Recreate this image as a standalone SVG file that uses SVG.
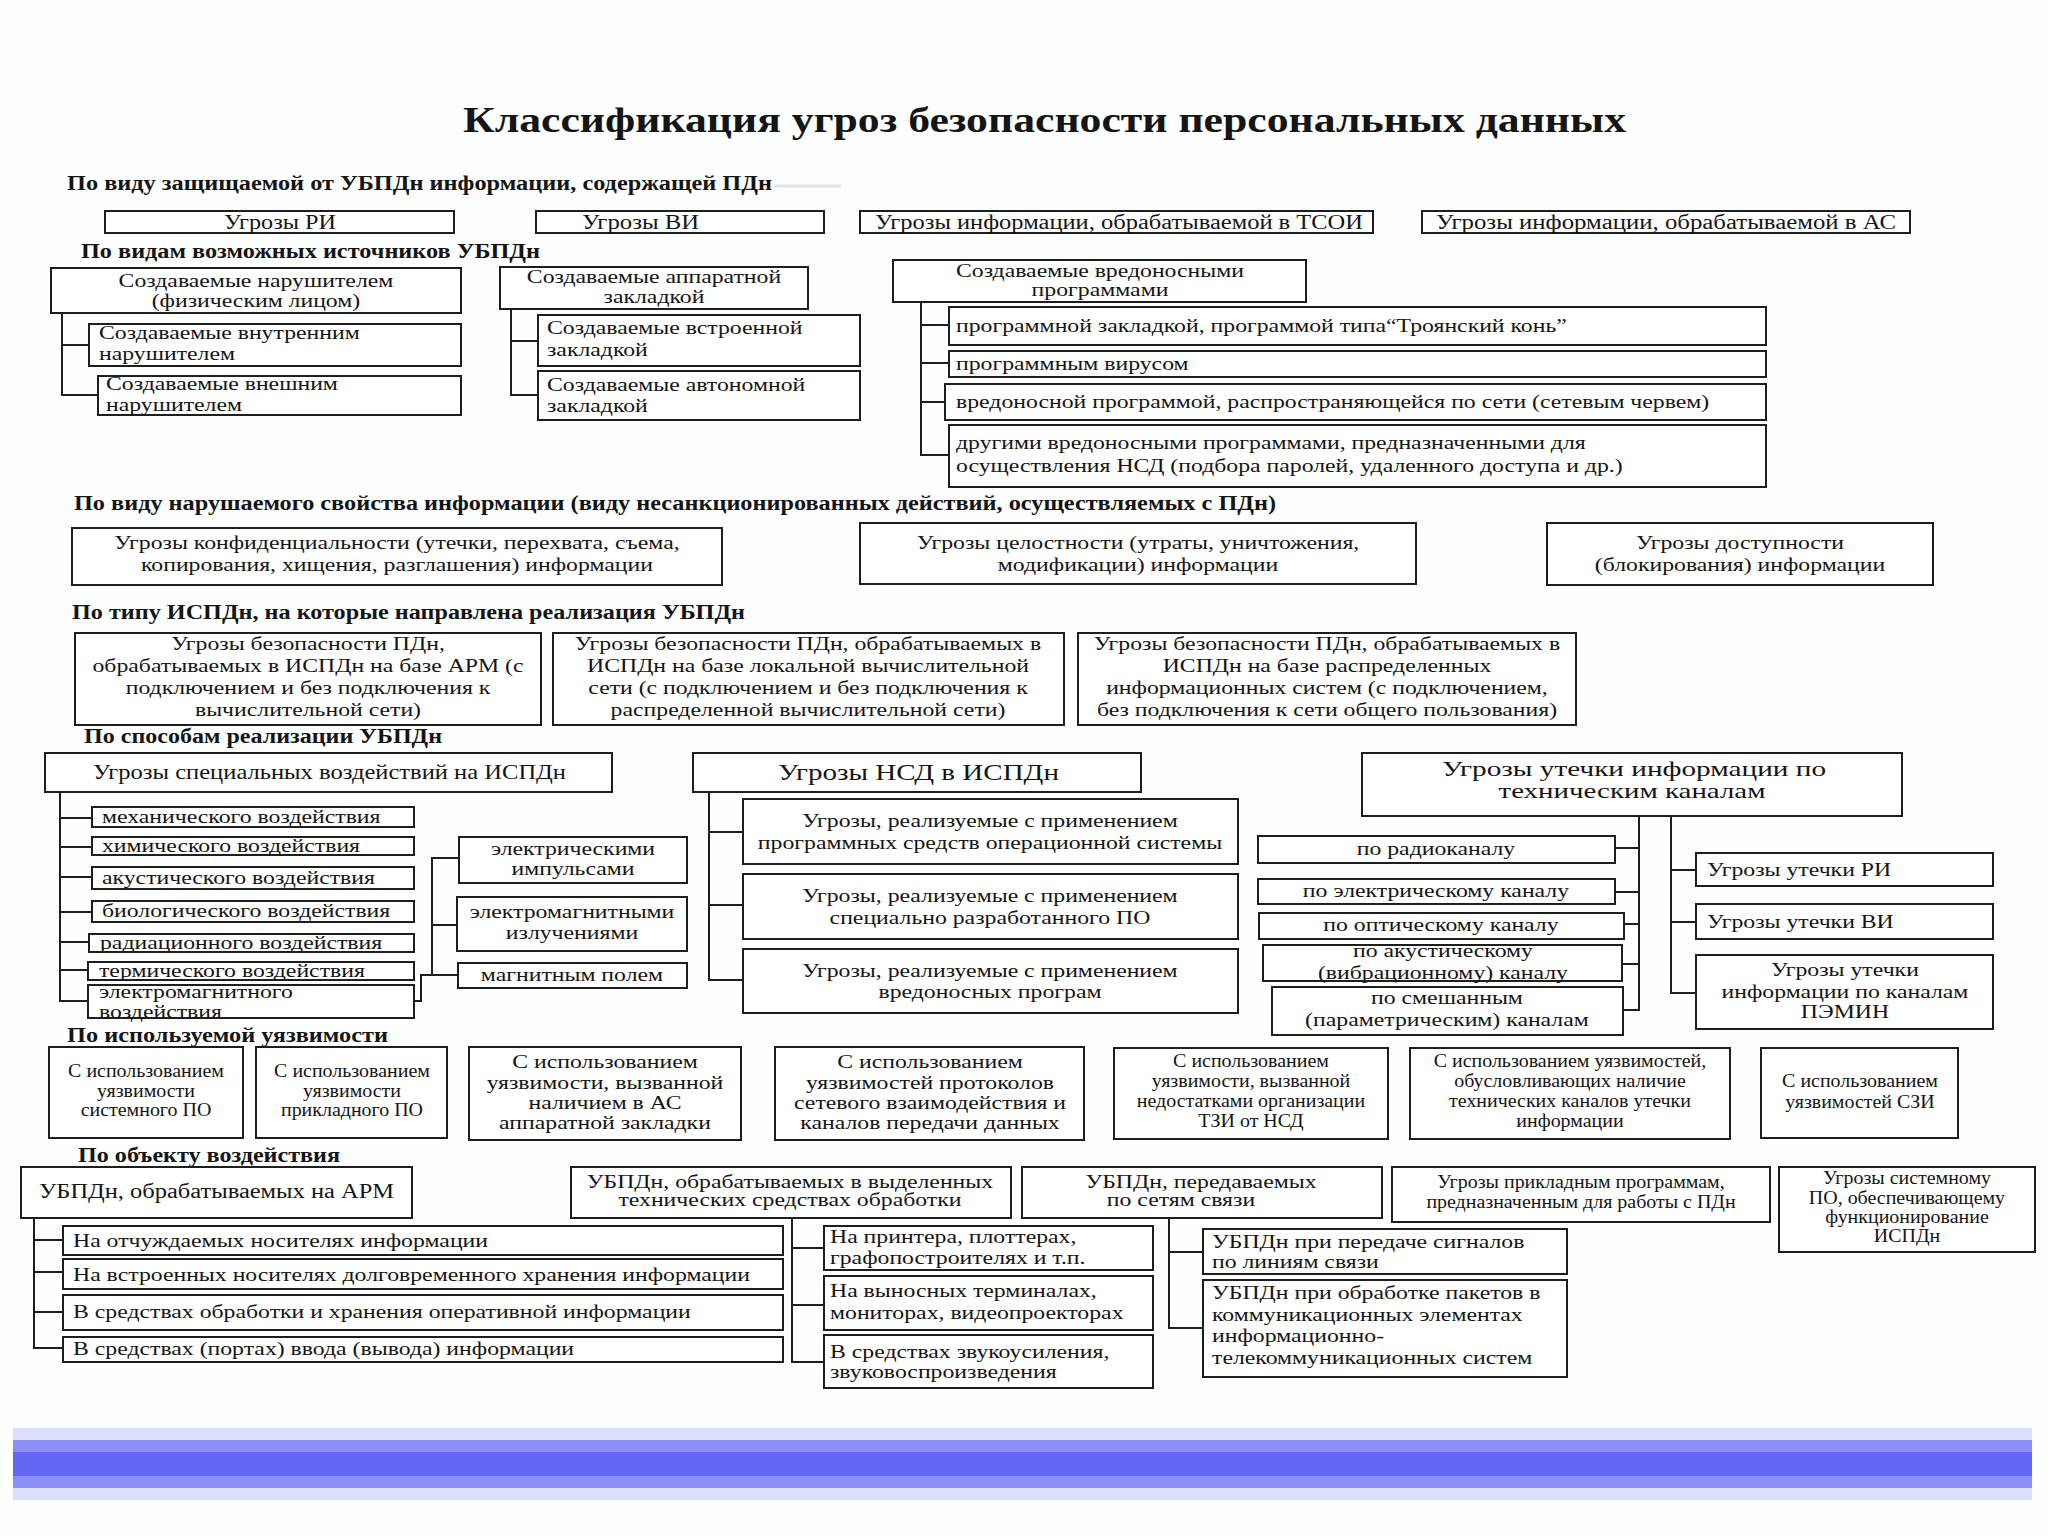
<svg xmlns="http://www.w3.org/2000/svg" width="2048" height="1536" viewBox="0 0 2048 1536">
<style>
.b{fill:#fff;stroke:#1e1e1e;stroke-width:2}
.k{fill:none;stroke:#1e1e1e;stroke-width:2}
text{font-family:"Liberation Serif","Times New Roman",serif;fill:#151515}
.t{font-size:19px;transform-box:fill-box;transform:scaleX(1.25)}
.v{font-size:19px;transform-box:fill-box;transform:scaleX(1.05)}
.c{text-anchor:middle;transform-origin:50% 50%}
.l{text-anchor:start;transform-origin:0% 50%}
.h{font-size:20px;font-weight:bold}
.n{font-size:20px}
.big{font-size:24px}
.ttl{font-size:36px;font-weight:bold}
</style>
<rect width="2048" height="1536" fill="#fdfefe"/>
<text class="ttl" x="463" y="132" textLength="1163" lengthAdjust="spacingAndGlyphs">Классификация угроз безопасности персональных данных</text>

<g id="headers">
<text class="h" x="67" y="190" textLength="705" lengthAdjust="spacingAndGlyphs">По виду защищаемой от УБПДн информации, содержащей ПДн</text>
<line x1="774" y1="186" x2="841" y2="186" stroke="#e2e4e6" stroke-width="3"/>
<text class="h" x="81" y="258" textLength="459" lengthAdjust="spacingAndGlyphs">По видам возможных источников УБПДн</text>
<text class="h" x="74" y="510" textLength="1202" lengthAdjust="spacingAndGlyphs">По виду нарушаемого свойства информации (виду несанкционированных действий, осуществляемых с ПДн)</text>
<text class="h" x="72" y="619" textLength="673" lengthAdjust="spacingAndGlyphs">По типу ИСПДн, на которые направлена реализация УБПДн</text>
<text class="h" x="84" y="743" textLength="358" lengthAdjust="spacingAndGlyphs">По способам реализации УБПДн</text>
<text class="h" x="67" y="1042" textLength="321" lengthAdjust="spacingAndGlyphs">По используемой уязвимости</text>
<text class="h" x="78" y="1162" textLength="262" lengthAdjust="spacingAndGlyphs">По объекту воздействия</text>
</g>

<g id="connectors">
<path class="k" d="M62,313 V395 H98 M62,345 H89"/>
<path class="k" d="M511,309 V395 H538 M511,341 H538"/>
<path class="k" d="M921,302 V455 H949 M921,325 H949 M921,363 H949 M921,402 H945"/>
<path class="k" d="M60,792 V1001 H88 M60,818 H92 M60,847 H92 M60,877 H92 M60,912 H92 M60,942 H89 M60,970 H88"/>
<path class="k" d="M414,1001 H421 V975 H458 M432,975 V858 H459 M432,925 H457"/>
<path class="k" d="M709,792 V980 H743 M709,832 H743 M709,905 H743"/>
<path class="k" d="M1639,816 V1010 H1623 M1639,848 H1615 M1639,892 H1615 M1639,924 H1624 M1639,964 H1622"/>
<path class="k" d="M1671,816 V993 H1696 M1671,870 H1696 M1671,922 H1696"/>
<path class="k" d="M34,1218 V1348 H63 M34,1240 H63 M34,1272 H63 M34,1312 H63"/>
<path class="k" d="M792,1218 V1362 H824 M792,1248 H824 M792,1305 H824"/>
<path class="k" d="M1169,1218 V1328 H1203 M1169,1252 H1203"/>
</g>

<g id="n-ri"><rect class="b" x="105" y="211" width="349" height="22"/><text class="n" x="224" y="229" textLength="112" lengthAdjust="spacingAndGlyphs">Угрозы РИ</text></g>
<g id="n-vi"><rect class="b" x="536" y="211" width="288" height="22"/><text class="n" x="582" y="229" textLength="117" lengthAdjust="spacingAndGlyphs">Угрозы ВИ</text></g>
<g id="n-tsoi"><rect class="b" x="860" y="211" width="513" height="22"/><text class="n" x="875" y="229" textLength="488" lengthAdjust="spacingAndGlyphs">Угрозы информации, обрабатываемой в ТСОИ</text></g>
<g id="n-as"><rect class="b" x="1422" y="211" width="488" height="22"/><text class="n" x="1436" y="229" textLength="460" lengthAdjust="spacingAndGlyphs">Угрозы информации, обрабатываемой в  АС</text></g>

<g id="n-phys"><rect class="b" x="51" y="268" width="410" height="45"/><text class="t c"><tspan x="256" y="287">Создаваемые нарушителем</tspan><tspan x="256" y="307">(физическим лицом)</tspan></text></g>
<g id="n-inner"><rect class="b" x="89" y="324" width="372" height="42"/><text class="t l"><tspan x="99" y="339">Создаваемые внутренним</tspan><tspan x="99" y="360">нарушителем</tspan></text></g>
<g id="n-outer"><rect class="b" x="98" y="376" width="363" height="39"/><text class="t l"><tspan x="106" y="390">Создаваемые внешним</tspan><tspan x="106" y="411">нарушителем</tspan></text></g>

<g id="n-hw"><rect class="b" x="500" y="267" width="308" height="42"/><text class="t c"><tspan x="654" y="283">Создаваемые аппаратной</tspan><tspan x="654" y="303">закладкой</tspan></text></g>
<g id="n-emb"><rect class="b" x="538" y="315" width="322" height="51"/><text class="t l"><tspan x="547" y="334">Создаваемые встроенной</tspan><tspan x="547" y="356">закладкой</tspan></text></g>
<g id="n-auto"><rect class="b" x="538" y="371" width="322" height="49"/><text class="t l"><tspan x="547" y="391">Создаваемые автономной</tspan><tspan x="547" y="412">закладкой</tspan></text></g>

<g id="n-mal"><rect class="b" x="893" y="260" width="413" height="42"/><text class="t c"><tspan x="1100" y="277">Создаваемые вредоносными</tspan><tspan x="1100" y="296">программами</tspan></text></g>
<g id="n-troj"><rect class="b" x="949" y="307" width="817" height="38"/><text class="t l" x="956" y="332">программной  закладкой, программой типа“Троянский конь”</text></g>
<g id="n-virus"><rect class="b" x="949" y="351" width="817" height="26"/><text class="t l" x="956" y="370">программным вирусом</text></g>
<g id="n-worm"><rect class="b" x="945" y="384" width="821" height="36"/><text class="t l" x="956" y="408">вредоносной программой, распространяющейся по сети (сетевым червем)</text></g>
<g id="n-other"><rect class="b" x="949" y="425" width="817" height="62"/><text class="t l"><tspan x="956" y="449">другими вредоносными программами, предназначенными для</tspan><tspan x="956" y="472">осуществления  НСД (подбора паролей, удаленного доступа и др.)</tspan></text></g>

<g id="n-conf"><rect class="b" x="72" y="528" width="650" height="57"/><text class="t c"><tspan x="397" y="549">Угрозы конфиденциальности (утечки, перехвата, съема,</tspan><tspan x="397" y="571">копирования, хищения, разглашения) информации</tspan></text></g>
<g id="n-integ"><rect class="b" x="860" y="523" width="556" height="61"/><text class="t c"><tspan x="1138" y="549">Угрозы целостности (утраты, уничтожения,</tspan><tspan x="1138" y="571">модификации) информации</tspan></text></g>
<g id="n-avail"><rect class="b" x="1547" y="523" width="386" height="62"/><text class="t c"><tspan x="1740" y="549">Угрозы доступности</tspan><tspan x="1740" y="571">(блокирования) информации</tspan></text></g>

<g id="n-arm"><rect class="b" x="75" y="633" width="466" height="92"/><text class="t c"><tspan x="308" y="650">Угрозы безопасности ПДн,</tspan><tspan x="308" y="672">обрабатываемых в ИСПДн на базе АРМ (с</tspan><tspan x="308" y="694">подключением и без подключения к</tspan><tspan x="308" y="716">вычислительной сети)</tspan></text></g>
<g id="n-lan"><rect class="b" x="553" y="633" width="511" height="92"/><text class="t c"><tspan x="808" y="650">Угрозы безопасности ПДн, обрабатываемых в</tspan><tspan x="808" y="672">ИСПДн на базе локальной вычислительной</tspan><tspan x="808" y="694">сети (с подключением и без подключения к</tspan><tspan x="808" y="716">распределенной вычислительной сети)</tspan></text></g>
<g id="n-dist"><rect class="b" x="1078" y="633" width="498" height="92"/><text class="t c"><tspan x="1327" y="650">Угрозы безопасности ПДн, обрабатываемых в</tspan><tspan x="1327" y="672">ИСПДн на базе распределенных</tspan><tspan x="1327" y="694">информационных систем (с подключением,</tspan><tspan x="1327" y="716">без подключения к сети  общего пользования)</tspan></text></g>

<g id="n-spec"><rect class="b" x="45" y="753" width="567" height="39"/><text class="n" x="93" y="779" style="font-size:21px" textLength="473" lengthAdjust="spacingAndGlyphs">Угрозы  специальных воздействий на ИСПДн</text></g>
<g id="n-mech"><rect class="b" x="92" y="807" width="322" height="20"/><text class="t l" x="102" y="823">механического воздействия</text></g>
<g id="n-chem"><rect class="b" x="92" y="837" width="322" height="18"/><text class="t l" x="102" y="852">химического воздействия</text></g>
<g id="n-acou"><rect class="b" x="92" y="867" width="322" height="22"/><text class="t l" x="102" y="884">акустического воздействия</text></g>
<g id="n-bio"><rect class="b" x="92" y="901" width="322" height="21"/><text class="t l" x="102" y="917">биологического воздействия</text></g>
<g id="n-rad"><rect class="b" x="89" y="934" width="325" height="18"/><text class="t l" x="100" y="949">радиационного воздействия</text></g>
<g id="n-therm"><rect class="b" x="88" y="962" width="326" height="18"/><text class="t l" x="99" y="977">термического воздействия</text></g>
<g id="n-em"><rect class="b" x="88" y="985" width="326" height="33"/><text class="t l"><tspan x="99" y="998">электромагнитного</tspan><tspan x="99" y="1018">воздействия</tspan></text></g>
<g id="n-imp"><rect class="b" x="459" y="837" width="228" height="46"/><text class="t c"><tspan x="573" y="855">электрическими</tspan><tspan x="573" y="875">импульсами</tspan></text></g>
<g id="n-rad2"><rect class="b" x="457" y="897" width="230" height="54"/><text class="t c"><tspan x="572" y="918">электромагнитными</tspan><tspan x="572" y="939">излучениями</tspan></text></g>
<g id="n-mag"><rect class="b" x="458" y="963" width="229" height="25"/><text class="t c" x="572" y="981">магнитным полем</text></g>

<g id="n-nsd"><rect class="b" x="693" y="753" width="448" height="39"/><text class="big" x="778" y="780" textLength="281" lengthAdjust="spacingAndGlyphs">Угрозы НСД в ИСПДн</text></g>
<g id="n-os"><rect class="b" x="743" y="799" width="495" height="65"/><text class="t c"><tspan x="990" y="827">Угрозы, реализуемые с применением</tspan><tspan x="990" y="849">программных средств операционной системы</tspan></text></g>
<g id="n-soft"><rect class="b" x="743" y="874" width="495" height="65"/><text class="t c"><tspan x="990" y="902">Угрозы, реализуемые с применением</tspan><tspan x="990" y="924">специально разработанного  ПО</tspan></text></g>
<g id="n-malw"><rect class="b" x="743" y="949" width="495" height="64"/><text class="t c"><tspan x="990" y="977">Угрозы, реализуемые с применением</tspan><tspan x="990" y="998">вредоносных програм</tspan></text></g>

<g id="n-leak"><rect class="b" x="1362" y="753" width="540" height="63"/><text class="big" style="font-size:22px" text-anchor="middle"><tspan x="1634" y="776" textLength="384" lengthAdjust="spacingAndGlyphs">Угрозы утечки информации по</tspan><tspan x="1632" y="798" textLength="267" lengthAdjust="spacingAndGlyphs">техническим каналам</tspan></text></g>
<g id="n-radio"><rect class="b" x="1258" y="836" width="357" height="27"/><text class="t c" x="1436" y="855">по радиоканалу</text></g>
<g id="n-elec"><rect class="b" x="1258" y="879" width="357" height="25"/><text class="t c" x="1436" y="897">по электрическому  каналу</text></g>
<g id="n-opt"><rect class="b" x="1259" y="913" width="365" height="26"/><text class="t c" x="1441" y="931">по оптическому каналу</text></g>
<g id="n-ac"><rect class="b" x="1263" y="945" width="359" height="36"/><text class="t c"><tspan x="1443" y="957">по акустическому</tspan><tspan x="1443" y="979">(вибрационному) каналу</tspan></text></g>
<g id="n-mix"><rect class="b" x="1272" y="987" width="351" height="48"/><text class="t c"><tspan x="1447" y="1004">по смешанным</tspan><tspan x="1447" y="1026">(параметрическим) каналам</tspan></text></g>
<g id="n-lri"><rect class="b" x="1696" y="853" width="297" height="33"/><text class="t l" x="1707" y="876">Угрозы утечки РИ</text></g>
<g id="n-lvi"><rect class="b" x="1696" y="904" width="297" height="35"/><text class="t l" x="1707" y="928">Угрозы утечки ВИ</text></g>
<g id="n-pemin"><rect class="b" x="1696" y="955" width="297" height="74"/><text class="t c"><tspan x="1845" y="976">Угрозы утечки</tspan><tspan x="1845" y="998">информации по каналам</tspan><tspan x="1845" y="1018">ПЭМИН</tspan></text></g>

<g id="n-v1"><rect class="b" x="49" y="1047" width="194" height="91"/><text class="v c"><tspan x="146" y="1077">С использованием</tspan><tspan x="146" y="1097">уязвимости</tspan><tspan x="146" y="1116">системного ПО</tspan></text></g>
<g id="n-v2"><rect class="b" x="256" y="1047" width="191" height="91"/><text class="v c"><tspan x="352" y="1077">С использованием</tspan><tspan x="352" y="1097">уязвимости</tspan><tspan x="352" y="1116">прикладного ПО</tspan></text></g>
<g id="n-v3"><rect class="b" x="469" y="1047" width="272" height="93"/><text class="t c"><tspan x="605" y="1068">С использованием</tspan><tspan x="605" y="1089">уязвимости, вызванной</tspan><tspan x="605" y="1109">наличием в АС</tspan><tspan x="605" y="1129">аппаратной закладки</tspan></text></g>
<g id="n-v4"><rect class="b" x="775" y="1047" width="309" height="93"/><text class="t c"><tspan x="930" y="1068">С использованием</tspan><tspan x="930" y="1089">уязвимостей протоколов</tspan><tspan x="930" y="1109">сетевого взаимодействия и</tspan><tspan x="930" y="1129">каналов передачи данных</tspan></text></g>
<g id="n-v5"><rect class="b" x="1114" y="1048" width="274" height="91"/><text class="v c"><tspan x="1251" y="1067">С использованием</tspan><tspan x="1251" y="1087">уязвимости, вызванной</tspan><tspan x="1251" y="1107">недостатками организации</tspan><tspan x="1251" y="1127">ТЗИ от НСД</tspan></text></g>
<g id="n-v6"><rect class="b" x="1410" y="1048" width="320" height="91"/><text class="v c"><tspan x="1570" y="1067">С использованием уязвимостей,</tspan><tspan x="1570" y="1087">обусловливающих наличие</tspan><tspan x="1570" y="1107">технических каналов утечки</tspan><tspan x="1570" y="1127">информации</tspan></text></g>
<g id="n-v7"><rect class="b" x="1761" y="1048" width="197" height="90"/><text class="v c"><tspan x="1860" y="1087">С использованием</tspan><tspan x="1860" y="1108">уязвимостей СЗИ</tspan></text></g>

<g id="n-oarm"><rect class="b" x="21" y="1167" width="391" height="51"/><text class="n" x="39" y="1198" textLength="355" lengthAdjust="spacingAndGlyphs">УБПДн, обрабатываемых на АРМ</text></g>
<g id="n-o1"><rect class="b" x="63" y="1226" width="720" height="29"/><text class="t l" x="73" y="1247">На отчуждаемых носителях информации</text></g>
<g id="n-o2"><rect class="b" x="63" y="1259" width="720" height="30"/><text class="t l" x="73" y="1281">На  встроенных носителях долговременного хранения информации</text></g>
<g id="n-o3"><rect class="b" x="63" y="1295" width="720" height="35"/><text class="t l" x="73" y="1318">В средствах обработки и хранения оперативной информации</text></g>
<g id="n-o4"><rect class="b" x="63" y="1337" width="720" height="25"/><text class="t l" x="73" y="1355">В средствах (портах) ввода (вывода) информации</text></g>
<g id="n-otech"><rect class="b" x="571" y="1167" width="440" height="51"/><text class="t c"><tspan x="790" y="1188">УБПДн, обрабатываемых в выделенных</tspan><tspan x="790" y="1206">технических средствах обработки</tspan></text></g>
<g id="n-t1"><rect class="b" x="824" y="1226" width="329" height="44"/><text class="t l"><tspan x="830" y="1243">На принтера, плоттерах,</tspan><tspan x="830" y="1264">графопостроителях и т.п.</tspan></text></g>
<g id="n-t2"><rect class="b" x="824" y="1276" width="329" height="54"/><text class="t l"><tspan x="830" y="1297">На выносных терминалах,</tspan><tspan x="830" y="1319">мониторах, видеопроекторах</tspan></text></g>
<g id="n-t3"><rect class="b" x="824" y="1335" width="329" height="53"/><text class="t l"><tspan x="830" y="1358">В средствах звукоусиления,</tspan><tspan x="830" y="1378">звуковоспроизведения</tspan></text></g>
<g id="n-onet"><rect class="b" x="1022" y="1167" width="360" height="51"/><text class="t c"><tspan x="1201" y="1188">УБПДн, передаваемых</tspan><tspan x="1185" y="1206">по сетям связи</tspan></text></g>
<g id="n-n1"><rect class="b" x="1203" y="1229" width="364" height="45"/><text class="t l"><tspan x="1212" y="1248">УБПДн при передаче сигналов</tspan><tspan x="1212" y="1268">по линиям связи</tspan></text></g>
<g id="n-n2"><rect class="b" x="1203" y="1280" width="364" height="97"/><text class="t l"><tspan x="1212" y="1299">УБПДн при обработке пакетов в</tspan><tspan x="1212" y="1321">коммуникационных элементах</tspan><tspan x="1212" y="1342">информационно-</tspan><tspan x="1212" y="1364">телекоммуникационных систем</tspan></text></g>
<g id="n-oapp"><rect class="b" x="1392" y="1167" width="378" height="55"/><text class="v c"><tspan x="1581" y="1188">Угрозы прикладным программам,</tspan><tspan x="1581" y="1208">предназначенным для работы с ПДн</tspan></text></g>
<g id="n-osys"><rect class="b" x="1779" y="1167" width="256" height="85"/><text class="v c"><tspan x="1907" y="1184">Угрозы системному</tspan><tspan x="1907" y="1204">ПО, обеспечивающему</tspan><tspan x="1907" y="1223">функционирование</tspan><tspan x="1907" y="1242">ИСПДн</tspan></text></g>

<g id="bar">
<rect x="13" y="1428" width="2019" height="72" fill="#dadffc"/>
<rect x="13" y="1440" width="2019" height="48" fill="#8a8ff8"/>
<rect x="13" y="1452" width="2019" height="24" fill="#6366f1"/>
</g>
</svg>
